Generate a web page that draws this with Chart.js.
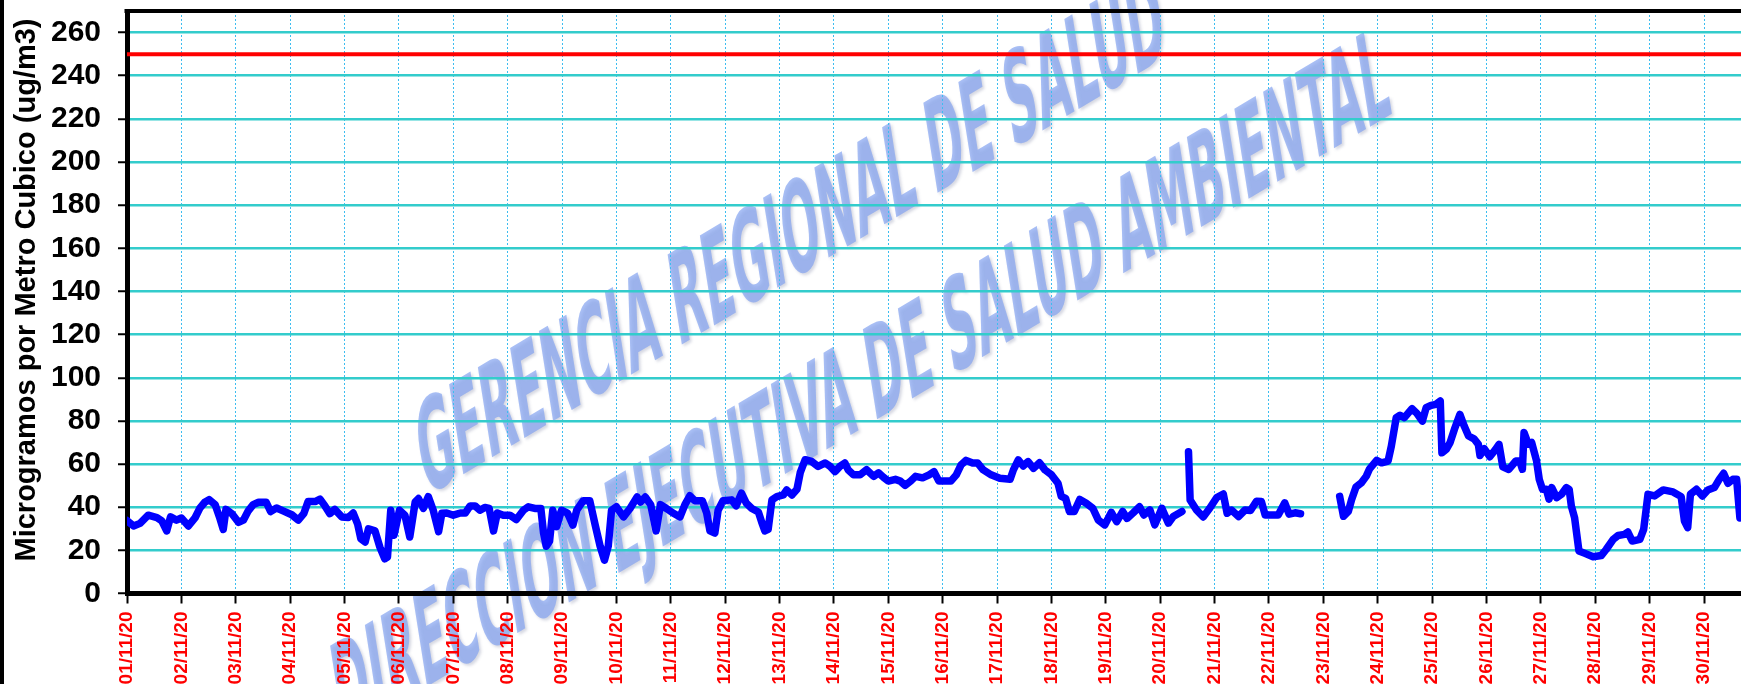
<!DOCTYPE html>
<html>
<head>
<meta charset="utf-8">
<title>PM10 Noviembre 2020</title>
<script src="https://cdn.jsdelivr.net/npm/chart.js@4.4.1/dist/chart.umd.min.js"></script>
<style>
  html, body { margin: 0; padding: 0; background: #fff; overflow: hidden; }
  canvas { display: block; }
</style>
</head>
<body>
<canvas id="grafico" width="1741" height="684"></canvas>
<script>
// etiquetas del eje X (una por dia)
const tickLabels = [
  '01/11/20', '02/11/20', '03/11/20', '04/11/20', '05/11/20', '06/11/20',
  '07/11/20', '08/11/20', '09/11/20', '10/11/20', '11/11/20', '12/11/20',
  '13/11/20', '14/11/20', '15/11/20', '16/11/20', '17/11/20', '18/11/20',
  '19/11/20', '20/11/20', '21/11/20', '22/11/20', '23/11/20', '24/11/20',
  '25/11/20', '26/11/20', '27/11/20', '28/11/20', '29/11/20', '30/11/20'
];
const yTicks = [0, 20, 40, 60, 80, 100, 120, 140, 160, 180, 200, 220, 240, 260];

// posicion en dias desde 01/11 00:00 y concentracion (ug/m3); null = sin dato
const dayPos = [
  0.00, 0.12, 0.24, 0.39, 0.55, 0.64, 0.73, 0.80, 0.91, 1.00,
  1.13, 1.25, 1.34, 1.43, 1.51, 1.62, 1.70, 1.77, 1.82, 1.93,
  2.05, 2.14, 2.23, 2.32, 2.42, 2.56, 2.64, 2.75, 2.87, 3.03,
  3.15, 3.25, 3.33, 3.46, 3.55, 3.64, 3.73, 3.82, 3.95, 4.07,
  4.16, 4.24, 4.30, 4.38, 4.44, 4.56, 4.65, 4.74, 4.79, 4.85,
  4.91, 5.01, 5.11, 5.20, 5.30, 5.36, 5.45, 5.54, 5.63, 5.73,
  5.79, 5.88, 6.00, 6.13, 6.22, 6.31, 6.40, 6.49, 6.58, 6.66,
  6.74, 6.81, 6.92, 7.04, 7.16, 7.29, 7.38, 7.50, 7.61, 7.66,
  7.71, 7.77, 7.83, 7.90, 7.99, 8.10, 8.20, 8.27, 8.39, 8.51,
  8.61, 8.70, 8.78, 8.85, 8.91, 9.00, 9.13, 9.25, 9.38, 9.44,
  9.53, 9.63, 9.73, 9.81, 9.92, 10.04, 10.17, 10.26, 10.35, 10.44,
  10.58, 10.66, 10.72, 10.81, 10.87, 10.96, 11.12, 11.20, 11.30, 11.39,
  11.49, 11.61, 11.67, 11.73, 11.79, 11.86, 11.95, 12.07, 12.13, 12.23,
  12.32, 12.38, 12.47, 12.59, 12.71, 12.84, 12.93, 13.02, 13.11, 13.20,
  13.26, 13.36, 13.48, 13.60, 13.73, 13.82, 13.91, 14.00, 14.13, 14.22,
  14.31, 14.41, 14.50, 14.63, 14.75, 14.84, 14.93, 15.06, 15.15, 15.25,
  15.34, 15.43, 15.55, 15.64, 15.74, 15.89, 16.05, 16.24, 16.30, 16.39,
  16.48, 16.57, 16.67, 16.78, 16.88, 17.00, 17.12, 17.18, 17.26, 17.33,
  17.42, 17.52, 17.64, 17.76, 17.86, 17.98, 18.10, 18.20, 18.31, 18.39,
  18.50, 18.62, 18.70, 18.81, 18.90, 19.03, 19.15, 19.24, 19.40, 19.46,
  19.52, 19.55, 19.67, 19.79, 19.91, 20.04, 20.16, 20.23, 20.31, 20.44,
  20.56, 20.66, 20.77, 20.86, 20.93, 21.08, 21.17, 21.29, 21.37, 21.48,
  21.58, 22.00, 22.30, 22.37, 22.46, 22.52, 22.60, 22.70, 22.79, 22.85,
  22.98, 23.07, 23.19, 23.25, 23.34, 23.41, 23.49, 23.63, 23.72, 23.82,
  23.89, 23.98, 24.07, 24.15, 24.18, 24.26, 24.33, 24.41, 24.51, 24.59,
  24.67, 24.77, 24.85, 24.88, 24.96, 25.06, 25.16, 25.23, 25.30, 25.41,
  25.54, 25.61, 25.66, 25.69, 25.77, 25.83, 25.92, 25.97, 26.03, 26.10,
  26.15, 26.20, 26.29, 26.38, 26.47, 26.52, 26.56, 26.62, 26.70, 26.81,
  26.96, 27.11, 27.20, 27.33, 27.42, 27.54, 27.60, 27.68, 27.82, 27.89,
  27.97, 28.09, 28.25, 28.43, 28.58, 28.64, 28.70, 28.75, 28.86, 28.97,
  29.07, 29.19, 29.28, 29.36, 29.44, 29.53, 29.60, 29.66
];
const pm10 = [
  33.8, 31.3, 32.5, 36.3, 35.2, 33.7, 29.0, 35.5, 34.0, 35.0,
  31.3, 35.0, 39.6, 42.3, 43.5, 41.2, 35.5, 29.7, 39.0, 37.0,
  33.0, 34.0, 38.3, 41.2, 42.3, 42.3, 38.0, 39.6, 38.3, 36.5,
  34.0, 37.0, 42.6, 42.6, 43.7, 40.6, 37.0, 39.0, 35.5, 35.2,
  37.3, 32.3, 25.4, 23.9, 30.0, 29.0, 21.5, 16.1, 16.9, 38.6,
  27.0, 38.6, 36.3, 26.2, 42.5, 44.0, 39.5, 44.9, 38.7, 28.7,
  37.2, 37.3, 36.3, 37.3, 37.3, 40.6, 40.6, 38.6, 39.9, 39.4,
  29.0, 37.3, 36.3, 36.3, 34.3, 38.6, 40.2, 39.4, 39.4, 28.0,
  21.9, 24.2, 38.6, 31.0, 38.6, 37.3, 31.7, 38.6, 43.0, 43.0,
  31.7, 22.0, 15.4, 22.0, 38.6, 40.2, 35.5, 39.4, 44.7, 42.4,
  44.7, 41.2, 29.0, 41.2, 39.4, 37.3, 35.5, 41.2, 45.3, 43.0,
  43.0, 37.3, 29.0, 28.0, 38.6, 43.0, 43.4, 40.6, 46.5, 41.8,
  39.4, 37.8, 33.2, 29.0, 29.7, 43.4, 44.9, 45.7, 48.0, 45.7,
  48.3, 56.0, 62.0, 61.2, 58.9, 60.5, 58.9, 56.5, 58.9, 60.5,
  57.4, 55.0, 55.0, 57.4, 54.3, 55.9, 53.9, 52.1, 52.9, 52.1,
  50.1, 52.1, 54.3, 53.6, 55.0, 56.5, 52.1, 52.1, 52.1, 55.0,
  59.7, 61.7, 60.5, 60.5, 57.4, 55.0, 53.4, 53.0, 57.3, 61.9,
  59.1, 61.1, 58.0, 60.6, 57.3, 55.0, 51.1, 45.0, 44.1, 38.0,
  38.0, 43.6, 41.8, 39.5, 34.1, 31.8, 37.6, 33.3, 38.0, 34.8,
  37.3, 40.2, 36.4, 38.7, 31.8, 39.5, 32.6, 35.7, 38.0, null,
  65.7, 43.3, 38.6, 35.5, 39.5, 44.5, 46.1, 37.2, 38.7, 35.7,
  38.7, 38.5, 42.8, 42.6, 36.4, 36.4, 36.4, 42.0, 36.8, 37.4,
  37.0, null, 45.0, 35.8, 38.1, 43.6, 49.4, 51.3, 54.4, 57.8,
  61.7, 60.6, 61.4, 68.3, 81.5, 82.6, 81.5, 85.7, 83.5, 79.9,
  86.1, 87.2, 87.7, 89.2, 65.2, 66.8, 69.9, 76.1, 83.0, 77.6,
  73.0, 71.7, 69.1, 64.0, 67.1, 63.4, 66.6, 69.1, 58.7, 57.5,
  61.4, 61.5, 57.6, 74.6, 69.2, 70.0, 61.5, 52.9, 48.3, 48.3,
  43.7, 49.1, 44.4, 46.0, 49.1, 48.3, 40.6, 35.1, 19.7, 18.6,
  17.0, 17.6, 20.4, 25.1, 26.9, 27.4, 28.5, 24.3, 25.1, 29.7,
  46.0, 45.2, 48.0, 47.1, 44.9, 33.6, 30.5, 46.0, 48.3, 45.2,
  48.0, 49.1, 52.9, 55.7, 51.1, 52.9, 52.9, 35.0
];
const limitValue = 250;     // limite ECA
const xMax = 29.68;         // el grafico original queda cortado a la derecha

const tituloY = 'Microgramos por Metro Cubico (ug/m3)';
const lineaTexto1 = 'GERENCIA REGIONAL DE SALUD';
const lineaTexto2 = 'DIRECCION EJECUTIVA DE SALUD AMBIENTAL';

const fontFam = '"Liberation Sans", Arial, Helvetica, sans-serif';

// marca de agua inclinada (debajo de la cuadricula), bordes y titulo del eje Y
const decorado = {
  id: 'decorado',
  beforeDraw(chart) {
    const ctx = chart.ctx;
    ctx.save();
    ctx.font = 'bold 100px "Liberation Sans Narrow", "DejaVu Sans Condensed", "Liberation Sans", sans-serif';
    const ang = 30.7 * Math.PI / 180;
    const ux = Math.cos(ang), uy = -Math.sin(ang);
    const lean = 9 * Math.PI / 180;
    const vx = -Math.sin(lean), vy = -Math.cos(lean);
    const k = 90 / 72;
    const s = 865 / ctx.measureText(lineaTexto1).width;
    ctx.fillStyle = 'rgba(128, 160, 240, 0.68)';
    ctx.shadowColor = 'rgba(80, 90, 130, 0.35)';
    ctx.shadowBlur = 3;
    ctx.shadowOffsetX = 2;
    ctx.shadowOffsetY = 2;
    ctx.textBaseline = 'alphabetic';
    ctx.setTransform(s * ux, s * uy, -k * vx, -k * vy, 425, 497);
    ctx.textAlign = 'left';
    ctx.fillText(lineaTexto1, 0, 0);
    ctx.setTransform(s * ux, s * uy, -k * vx, -k * vy, 1393, 113);
    ctx.textAlign = 'right';
    ctx.fillText(lineaTexto2, 0, 0);
    ctx.restore();
  },
  afterDraw(chart) {
    const ctx = chart.ctx;
    const a = chart.chartArea;
    ctx.save();
    ctx.fillStyle = '#000';
    // borde superior del area de trazado
    ctx.fillRect(a.left - 2.5, a.top - 2, a.right - a.left + 2.5, 4);
    // borde izquierdo de la imagen
    ctx.fillRect(0, 0, 4, chart.height);
    // titulo del eje Y
    ctx.translate(27, 290);
    ctx.rotate(-Math.PI / 2);
    ctx.font = 'bold 29px ' + fontFam;
    ctx.textAlign = 'center';
    ctx.textBaseline = 'middle';
    ctx.fillText(tituloY, 0, 0);
    ctx.restore();
  }
};

const puntos = dayPos.map((d, i) => ({ x: d, y: pm10[i] }));

new Chart(document.getElementById('grafico'), {
  type: 'line',
  data: {
    datasets: [
      {
        label: 'Limite',
        data: [{ x: 0, y: limitValue }, { x: xMax, y: limitValue }],
        borderColor: '#FF0000',
        borderWidth: 4,
        pointRadius: 0
      },
      {
        label: 'PM10',
        data: puntos,
        borderColor: '#0000FF',
        borderWidth: 7.5,
        borderJoinStyle: 'round',
        borderCapStyle: 'round',
        pointRadius: 0,
        tension: 0,
        spanGaps: false
      }
    ]
  },
  options: {
    responsive: false,
    animation: false,
    devicePixelRatio: 1,
    layout: { padding: { top: 11, left: 0, right: 0, bottom: 0 } },
    plugins: {
      legend: { display: false },
      tooltip: { enabled: false }
    },
    scales: {
      x: {
        type: 'linear',
        min: 0,
        max: xMax,
        afterBuildTicks: s => { s.ticks = tickLabels.map((_, i) => ({ value: i })); },
        afterFit: s => { s.height = 90.5; s.paddingLeft = 0; s.paddingRight = 0; },
        ticks: {
          autoSkip: false,
          maxRotation: 90,
          minRotation: 90,
          padding: 8,
          color: '#FF0000',
          font: { family: fontFam, size: 19, weight: 'bold' },
          callback: v => tickLabels[v]
        },
        grid: {
          color: '#3DBDF0',
          lineWidth: 1,
          tickColor: '#000',
          tickLength: 10,
          tickWidth: 2
        },
        border: { color: '#000', width: 5, dash: [2, 2] }
      },
      y: {
        min: 0,
        max: 270,
        afterBuildTicks: s => { s.ticks = yTicks.map(v => ({ value: v })); },
        afterFit: s => { s.width = 127; s.paddingTop = 0; s.paddingBottom = 0; },
        ticks: {
          padding: 17,
          color: '#000',
          font: { family: fontFam, size: 30, weight: 'bold' }
        },
        grid: {
          color: '#33CCCC',
          lineWidth: 2.5,
          tickColor: '#000',
          tickLength: 9,
          tickWidth: 2
        },
        border: { color: '#000', width: 5 }
      }
    }
  },
  plugins: [decorado]
});
</script>
</body>
</html>
